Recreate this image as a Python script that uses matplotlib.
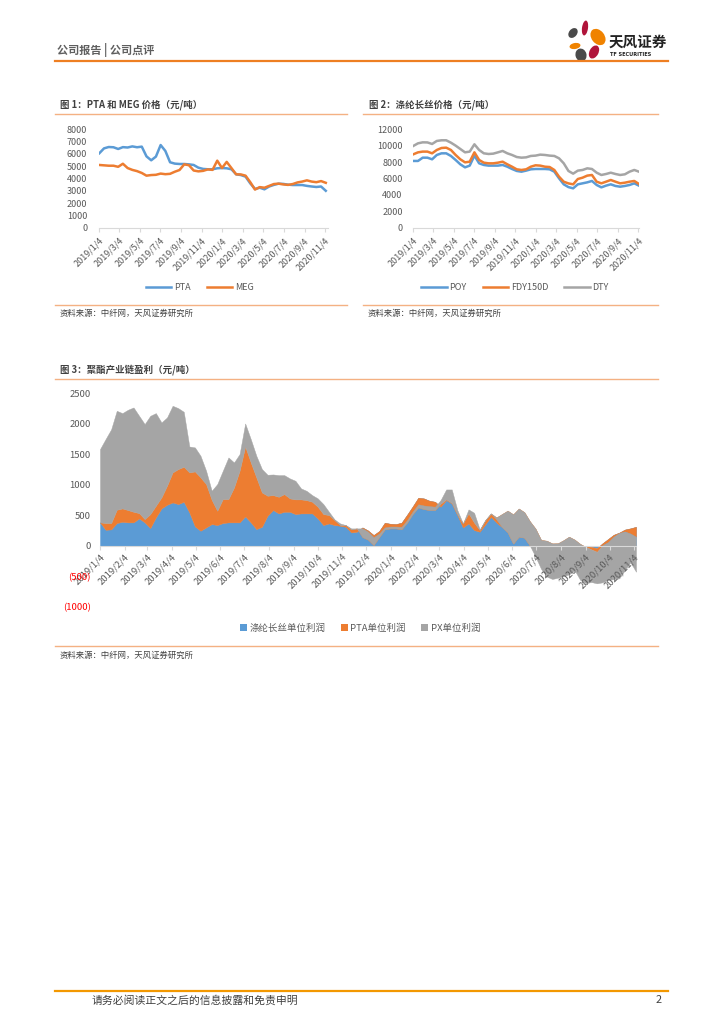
import matplotlib
matplotlib.use('Agg')
import matplotlib.pyplot as plt
from matplotlib.patches import Ellipse, Patch
from matplotlib.lines import Line2D
import pandas as pd

plt.rcParams['font.family'] = ['Noto Sans CJK SC', 'DejaVu Sans']

W, H = 724, 1024
BLUE = '#5B9BD5'
ORANGE = '#ED7D31'
GREY = '#A5A5A5'
TICK_COLOR = '#595959'
AXIS_COLOR = '#D9D9D9'
LINE_ORANGE = '#F4B183'

# ---- chart 1 / 2 data (every two weeks) ----
price_dates = pd.date_range('2019-01-04', periods=49, freq='14D')
pta = [6050, 6450, 6560, 6540, 6400, 6550, 6520, 6610, 6540, 6590,
       5800, 5480, 5780, 6720, 6240, 5320, 5210, 5180, 5180, 5150,
       5100, 4880, 4780, 4750, 4750, 4830, 4850, 4830, 4750, 4340,
       4280, 4150, 3600, 3150, 3250, 3120, 3350, 3480, 3580, 3560,
       3500, 3470, 3470, 3470, 3400, 3350, 3310, 3350, 3000]
meg = [5100, 5070, 5040, 5040, 4950, 5200, 4850, 4700, 4600, 4450,
       4230, 4280, 4300, 4400, 4350, 4380, 4550, 4690, 5150, 5080,
       4650, 4580, 4620, 4740, 4700, 5450, 4850, 5350, 4850, 4340,
       4330, 4230, 3700, 3100, 3300, 3250, 3400, 3550, 3580, 3520,
       3480, 3550, 3680, 3750, 3850, 3750, 3700, 3790, 3650]
poy = [8140, 8140, 8540, 8540, 8340, 8870, 9070, 9070, 8750, 8260,
       7730, 7360, 7570, 8790, 7850, 7650, 7570, 7570, 7570, 7650,
       7440, 7160, 6920, 6830, 6960, 7120, 7160, 7160, 7160, 7120,
       6830, 6020, 5290, 4950, 4800, 5290, 5410, 5530, 5700, 5210,
       4920, 5130, 5290, 5090, 5000, 5090, 5210, 5410, 5130]
fdy = [8950, 9190, 9280, 9280, 9070, 9480, 9720, 9760, 9480, 8870,
       8340, 7970, 8050, 9190, 8260, 7930, 7850, 7850, 7930, 8050,
       7730, 7440, 7120, 7040, 7120, 7440, 7610, 7570, 7440, 7400,
       7040, 6220, 5610, 5400, 5290, 5940, 6100, 6350, 6430, 5610,
       5410, 5610, 5820, 5610, 5410, 5490, 5610, 5700, 5330]
dty = [9970, 10290, 10410, 10400, 10210, 10580, 10660, 10660, 10370, 10010,
       9600, 9190, 9280, 10170, 9480, 9070, 8990, 9030, 9190, 9360,
       9070, 8870, 8620, 8540, 8580, 8750, 8790, 8910, 8870, 8790,
       8750, 8460, 7850, 6920, 6590, 6960, 7040, 7240, 7160, 6710,
       6430, 6550, 6710, 6550, 6430, 6510, 6830, 7040, 6830]

# ---- chart 3 data (weekly, stacked areas) ----
profit_dates = pd.date_range('2019-01-04', periods=97, freq='7D')
filament_profit = [383, 262, 268, 372, 393, 383, 383, 448, 383, 290,
                   464, 612, 672, 710, 683, 721, 546, 317, 246, 300,
                   355, 339, 372, 383, 383, 383, 481, 383, 273, 311,
                   492, 585, 530, 557, 557, 519, 530, 530, 530, 448,
                   339, 366, 339, 328, 311, 218, 230, 300, 250, 175,
                   240, 377, 360, 355, 377, 508, 644, 787, 776, 738,
                   721, 640, 749, 694, 503, 300, 366, 257, 230, 350,
                   475, 380, 305, 220, 35, 150, 131, 0, 0, 0,
                   0, 0, 0, 0, 0, 0, 0, 0, -20, -40,
                   40, 110, 180, 215, 265, 285, 310]
pta_profit = [0, 110, 104, 218, 219, 202, 174, 87, 54, 229,
              192, 180, 312, 492, 574, 574, 656, 902, 874, 711,
              399, 235, 393, 382, 573, 847, 1147, 983, 847, 563,
              328, 245, 273, 290, 219, 241, 230, 218, 191, 191,
              180, 137, 82, 11, 28, 50, 54, -160, -150, -164,
              -100, -109, -76, -71, -107, -128, -124, -159, -175, -153,
              -136, 50, 11, 6, 7, 66, 164, 123, 27, 70,
              55, 84, 215, 355, 480, 460, 419, 400, 280, 95,
              82, 38, 40, 90, 148, 100, 30, -20, -40, -60,
              -30, -50, -30, -5, -30, -85, -162]
px_profit = [1202, 1378, 1538, 1623, 1563, 1645, 1711, 1596, 1558, 1612,
             1519, 1230, 1120, 1093, 1000, 902, 426, 393, 355, 219,
             148, 437, 465, 683, 410, 273, 377, 383, 355, 383,
             344, 339, 355, 311, 328, 305, 180, 152, 109, 137,
             164, 54, 11, 27, 0, 16, 0, 145, 130, 129,
             60, 32, 31, 31, 40, 40, 40, 52, 59, 65,
             55, 59, 163, 223, 75, 0, 66, 161, 11, 0,
             0, -34, -215, -355, -480, -460, -419, -400, -460, -475,
             -587, -583, -565, -590, -618, -500, -590, -595, -535, -517,
             -610, -620, -700, -745, -635, -470, -574]

ticks_2m = pd.date_range('2019-01-01', '2020-11-01', freq='2MS') + pd.Timedelta(days=3)
ticks_1m = pd.date_range('2019-01-01', '2020-11-01', freq='MS') + pd.Timedelta(days=3)


def fx(x):
    return x / W


def fy(y):
    return 1 - y / H


def add_axes_px(fig, left, top, right, bottom):
    return fig.add_axes([fx(left), fy(bottom), (right - left) / W, (bottom - top) / H])


def date_label(d):
    return f"{d.year}/{d.month}/{d.day}"


def hline(fig, x0, x1, y, color, lw):
    fig.add_artist(Line2D([fx(x0), fx(x1)], [fy(y), fy(y)], color=color, lw=lw))


def style_axes(ax, ticks, ypad, xpad, size):
    for s in ('top', 'right', 'left'):
        ax.spines[s].set_visible(False)
    ax.spines['bottom'].set_color(AXIS_COLOR)
    ax.spines['bottom'].set_linewidth(0.8)
    ax.set_xticks(ticks)
    ax.set_xticklabels([date_label(d) for d in ticks], rotation=45, ha='right',
                       va='top', rotation_mode='anchor')
    ax.tick_params(axis='y', length=0, pad=ypad, labelsize=size, labelcolor=TICK_COLOR)
    ax.tick_params(axis='x', length=3, width=0.8, color=AXIS_COLOR, pad=xpad,
                   labelsize=size, labelcolor=TICK_COLOR)
    ax.patch.set_alpha(0)


def draw_logo(fig):
    ax = fig.add_axes([fx(562), fy(68), 50 / W, 54 / H])
    ax.set_xlim(562, 612)
    ax.set_ylim(68, 14)
    ax.axis('off')
    petals = [((585, 28), 6, 15, 8, '#B0143A'),
              ((573, 33), 8, 11, 40, '#4A4A4A'),
              ((598, 37), 13, 18, -38, '#F08300'),
              ((575, 46), 11, 6, -10, '#F08300'),
              ((594, 52), 9, 14, 28, '#B0143A'),
              ((581, 55), 11, 13, -15, '#4A4A4A')]
    for xy, w, h, ang, col in petals:
        ax.add_patch(Ellipse(xy, w, h, angle=ang, color=col, lw=0))
    fig.text(fx(609), fy(42), '天风证券', fontsize=10.5, fontweight='bold',
             color='#222222', va='center', ha='left')
    fig.text(fx(610), fy(55), 'TF SECURITIES', fontsize=3.6, fontweight='bold',
             color='#222222', va='center', ha='left', family=['DejaVu Sans'])


def main():
    fig = plt.figure(figsize=(W / 100, H / 100), dpi=100)

    # header / footer
    fig.text(fx(57), fy(50), '公司报告 | 公司点评', fontsize=8, fontweight='bold',
             color='#5F5F5F', va='center')
    draw_logo(fig)
    hline(fig, 55, 668, 61, '#EE7F22', 1.6)
    hline(fig, 55, 668, 991, '#F39800', 1.6)
    fig.text(fx(92), fy(1000), '请务必阅读正文之后的信息披露和免责申明', fontsize=7.8,
             color='#404040', va='center')
    fig.text(fx(662), fy(1000), '2', fontsize=7.8, color='#404040', va='center', ha='right')

    # panel frames
    for x0, x1 in ((55, 347), (363, 658)):
        hline(fig, x0, x1, 114.3, LINE_ORANGE, 1.0)
        hline(fig, x0, x1, 305, LINE_ORANGE, 1.0)
        fig.text(fx(x0 + 5), fy(313.5), '资料来源：中纤网，天风证券研究所', fontsize=6,
                 color='#404040', va='center')
    fig.text(fx(60), fy(105), '图 1：PTA 和 MEG 价格（元/吨）', fontsize=6.8,
             fontweight='bold', color='#404040', va='center')
    fig.text(fx(369), fy(105), '图 2：涤纶长丝价格（元/吨）', fontsize=6.8,
             fontweight='bold', color='#404040', va='center')
    hline(fig, 55, 658, 379.3, LINE_ORANGE, 1.0)
    hline(fig, 55, 658, 645.7, LINE_ORANGE, 1.0)
    fig.text(fx(60), fy(370), '图 3：聚酯产业链盈利（元/吨）', fontsize=6.8,
             fontweight='bold', color='#404040', va='center')
    fig.text(fx(60), fy(655), '资料来源：中纤网，天风证券研究所', fontsize=6,
             color='#404040', va='center')

    # chart 1
    ax1 = add_axes_px(fig, 99.3, 129.3, 327.8, 227.7)
    ax1.plot(price_dates, pta, color=BLUE, lw=1.8, label='PTA')
    ax1.plot(price_dates, meg, color=ORANGE, lw=1.8, label='MEG')
    ax1.set_xlim(pd.Timestamp('2019-01-04'), pd.Timestamp('2020-11-12'))
    ax1.set_ylim(0, 8000)
    ax1.set_yticks(range(0, 8001, 1000))
    style_axes(ax1, ticks_2m, ypad=8.6, xpad=3, size=6.5)
    ax1.legend(loc='center', bbox_to_anchor=(fx(200), fy(288)), bbox_transform=fig.transFigure,
               ncol=2, frameon=False, fontsize=6.5, handlelength=2.8, columnspacing=1.8,
               handletextpad=0.3, labelcolor=TICK_COLOR)

    # chart 2
    ax2 = add_axes_px(fig, 413.3, 129.3, 639.3, 227.7)
    ax2.plot(price_dates, poy, color=BLUE, lw=1.8, label='POY')
    ax2.plot(price_dates, fdy, color=ORANGE, lw=1.8, label='FDY150D')
    ax2.plot(price_dates, dty, color=GREY, lw=1.8, label='DTY')
    ax2.set_xlim(pd.Timestamp('2019-01-04'), pd.Timestamp('2020-11-07'))
    ax2.set_ylim(0, 12000)
    ax2.set_yticks(range(0, 12001, 2000))
    style_axes(ax2, ticks_2m, ypad=7.6, xpad=3, size=6.5)
    ax2.legend(loc='center', bbox_to_anchor=(fx(515), fy(288)), bbox_transform=fig.transFigure,
               ncol=3, frameon=False, fontsize=6.5, handlelength=2.8, columnspacing=1.8,
               handletextpad=0.3, labelcolor=TICK_COLOR)

    # chart 3: stacked areas
    ax3 = add_axes_px(fig, 100, 393.3, 636, 606.7)
    ax3.spines['bottom'].set_position(('data', 0))
    base = [0] * len(profit_dates)
    layers = [(filament_profit, BLUE, '涤纶长丝单位利润'),
              (pta_profit, ORANGE, 'PTA单位利润'),
              (px_profit, GREY, 'PX单位利润')]
    handles = []
    for values, col, name in layers:
        top = [a + v for a, v in zip(base, values)]
        ax3.fill_between(profit_dates, base, top, facecolor=col, edgecolor=col, lw=0.3)
        handles.append(Patch(facecolor=col, edgecolor='none', label=name))
        base = top
    ax3.set_xlim(profit_dates[0], profit_dates[-1])
    ax3.set_ylim(-1000, 2500)
    yt = list(range(-1000, 2501, 500))
    ax3.set_yticks(yt)
    ax3.set_yticklabels([f"({-v})" if v < 0 else str(v) for v in yt])
    style_axes(ax3, ticks_1m, ypad=6.7, xpad=1.5, size=6.8)
    for lab, v in zip(ax3.get_yticklabels(), yt):
        if v < 0:
            lab.set_color('#FF0000')
    ax3.legend(handles=handles, loc='center', bbox_to_anchor=(fx(360), fy(628.5)),
               bbox_transform=fig.transFigure, ncol=3, frameon=False, fontsize=6.8,
               handlelength=0.75, handleheight=0.75, columnspacing=1.6,
               handletextpad=0.3, labelcolor=TICK_COLOR)

    fig.savefig('out.png', dpi=100)


if __name__ == '__main__':
    main()
